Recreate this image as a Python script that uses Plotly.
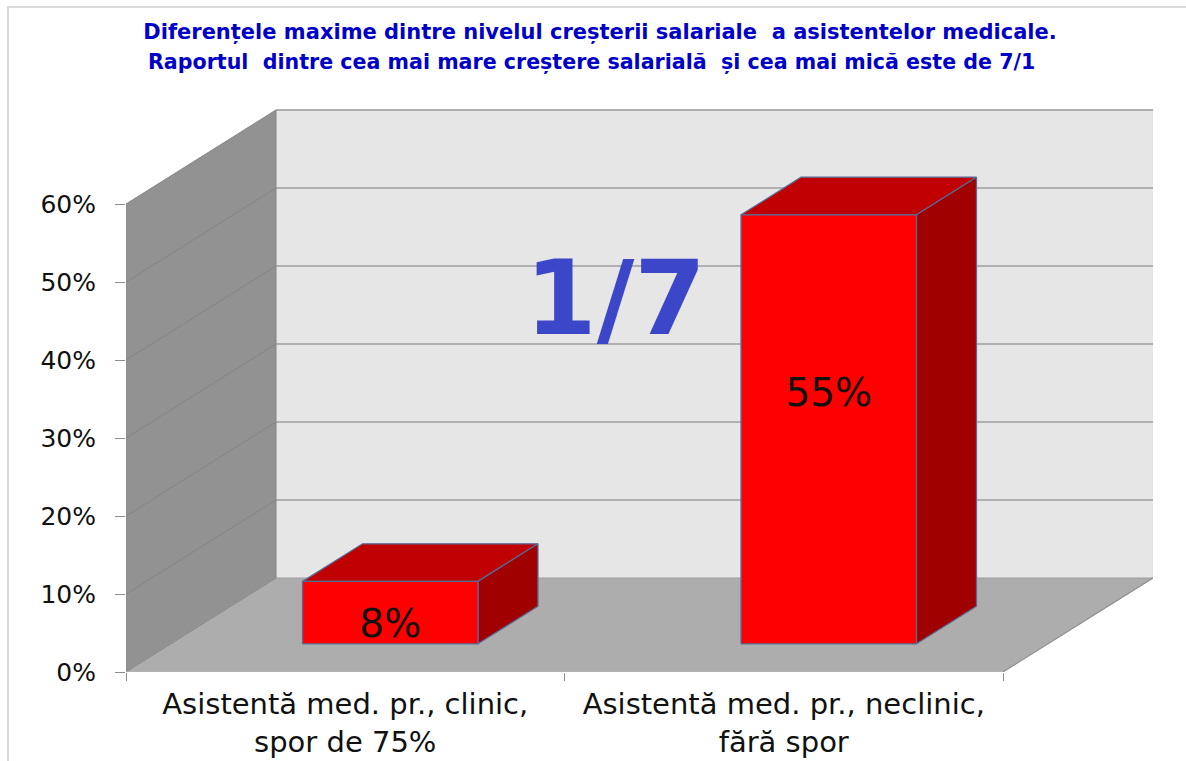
import plotly.graph_objects as go

# ---- data ----
categories = ["Asistentă med. pr., clinic,<br>spor de 75%", "Asistentă med. pr., neclinic,<br>fără spor"]
values = [8, 55]
value_labels = ["8%", "55%"]
y_ticks = [0, 10, 20, 30, 40, 50, 60]
y_tick_labels = ["0%", "10%", "20%", "30%", "40%", "50%", "60%"]
title_line_1 = "Diferențele maxime dintre nivelul creșterii salariale  a asistentelor medicale."
title_line_2 = "Raportul  dintre cea mai mare creștere salarială  și cea mai mică este de 7/1"
ratio_text = "1/7"

# ---- oblique projection of the fake 3D box (styles / geometry) ----
W, H = 1186, 761
PX_L, PX_R, PX_T, PX_B = 126, 1153, 109, 672
X_UNIT = 438.5          # px per category
Y_UNIT = 7.8            # px per percent
DX = 150 / X_UNIT       # depth vector in data units
DY = 94 / Y_UNIT
X_MAX = (PX_R - PX_L) / X_UNIT
Y_MAX = (PX_B - PX_T) / Y_UNIT
PW, PH = PX_R - PX_L, PX_B - PX_T
N = len(categories)
TOP = y_ticks[-1]
BAR_W = 0.4
DEPTH_FRONT, DEPTH_BACK = 0.3, 0.7
LABEL_SHIFT = [-1.9, 4.3]  # value-label offset from bar mid-height, in percent


def P(x, v, d):
    return x + d * DX, v + d * DY


fig = go.Figure()


def poly(points, fill, line_color=None, line_width=0):
    xs = [p[0] for p in points] + [points[0][0]]
    ys = [p[1] for p in points] + [points[0][1]]
    fig.add_trace(go.Scatter(
        x=xs, y=ys, mode="lines", fill="toself", fillcolor=fill,
        line=dict(color=line_color or fill, width=line_width),
        hoverinfo="skip", showlegend=False))


def seg(a, b, color, width):
    fig.add_trace(go.Scatter(
        x=[a[0], b[0]], y=[a[1], b[1]], mode="lines",
        line=dict(color=color, width=width), hoverinfo="skip", showlegend=False))


# walls
poly([P(0, 0, 1), P(N, 0, 1), P(N, TOP, 1), P(0, TOP, 1)], "#e6e6e6")
poly([P(0, 0, 0), P(0, 0, 1), P(0, TOP, 1), P(0, TOP, 0)], "#929292")
poly([P(0, 0, 0), P(N, 0, 0), P(N, 0, 1), P(0, 0, 1)], "#adadad")

# gridlines
for v in y_ticks:
    if v == 0:
        continue
    seg(P(0, v, 1), P(N, v, 1), "#b0b0b0", 2)
    seg(P(0, v, 0), P(0, v, 1), "#858585", 1)
seg(P(0, 0, 1), P(N, 0, 1), "#a0a0a0", 1)
seg(P(0, 0, 0), P(0, 0, 1), "#8a8a8a", 1)
seg(P(0, 0, 0), P(0, TOP, 0), "#8a8a8a", 1)
seg(P(0, 0, 1), P(0, TOP, 1), "#858585", 1)
seg(P(N, 0, 0), P(N, 0, 1), "#8c8c8c", 1.2)

# bars
EDGE = "#566a94"
for i, v in enumerate(values):
    x0 = i + 0.5 - BAR_W / 2
    x1 = i + 0.5 + BAR_W / 2
    poly([P(x0, v, DEPTH_FRONT), P(x1, v, DEPTH_FRONT), P(x1, v, DEPTH_BACK), P(x0, v, DEPTH_BACK)],
         "#c00000", EDGE, 1.3)
    poly([P(x1, 0, DEPTH_FRONT), P(x1, 0, DEPTH_BACK), P(x1, v, DEPTH_BACK), P(x1, v, DEPTH_FRONT)],
         "#a00000", EDGE, 1.3)
    poly([P(x0, 0, DEPTH_FRONT), P(x1, 0, DEPTH_FRONT), P(x1, v, DEPTH_FRONT), P(x0, v, DEPTH_FRONT)],
         "#ff0000", EDGE, 1.3)

# value labels
for i, v in enumerate(values):
    lx, ly = P(i + 0.5, v / 2 + LABEL_SHIFT[i], DEPTH_FRONT)
    fig.add_trace(go.Scatter(
        x=[lx], y=[ly], mode="text", text=[value_labels[i]],
        textposition="middle center",
        textfont=dict(family="DejaVu Sans", size=39, color="#111111"),
        hoverinfo="skip", showlegend=False))

# carrier of the tick-mark axis
fig.add_trace(go.Scatter(x=[0, N], y=[0, 0], mode="lines", xaxis="x2",
                         line=dict(color="#b5b5b5", width=1),
                         hoverinfo="skip", showlegend=False))


def paper_x(px):
    return (px - PX_L) / PW


def paper_y(py):
    return (PX_B - py) / PH


fig.update_layout(
    width=W, height=H,
    margin=dict(l=PX_L, r=W - PX_R, t=PX_T, b=H - PX_B, pad=0, autoexpand=False),
    paper_bgcolor="#ffffff", plot_bgcolor="rgba(0,0,0,0)",
    showlegend=False,
    xaxis=dict(range=[0, X_MAX], tickvals=[i + 0.5 for i in range(N)], ticktext=categories,
               ticks="", showgrid=False, zeroline=False, showline=False, automargin=False,
               tickfont=dict(family="DejaVu Sans", size=29, color="#111111"),
               ticklabelstandoff=12),
    xaxis2=dict(range=[0, X_MAX], overlaying="x", side="bottom",
                tickvals=list(range(N + 1)), ticktext=[""] * (N + 1), automargin=False,
                ticks="outside", ticklen=8, tickcolor="#8c8c8c", tickwidth=1,
                showgrid=False, zeroline=False, showline=False),
    yaxis=dict(range=[0, Y_MAX], tickvals=y_ticks, ticktext=y_tick_labels, automargin=False,
               ticks="outside", ticklen=10, tickcolor="#8c8c8c", tickwidth=1,
               showgrid=False, zeroline=False, showline=False,
               tickfont=dict(family="DejaVu Sans", size=25, color="#111111"),
               ticklabelstandoff=14),
    title=dict(text=title_line_1, x=600 / W, xanchor="center", xref="container", yref="container",
               y=1 - 32 / H, yanchor="middle",
               font=dict(family="DejaVu Sans", size=21, color="#0000c8", weight="bold")),
    shapes=[dict(type="rect", xref="paper", yref="paper", layer="below",
                 x0=paper_x(8), x1=paper_x(W + 20),
                 y0=paper_y(H + 20), y1=paper_y(7),
                 line=dict(color="#d9d9d9", width=2), fillcolor="#ffffff")],
    annotations=[
        dict(text=title_line_2, x=paper_x(591), y=paper_y(62), xref="paper", yref="paper",
             xanchor="center", yanchor="middle", showarrow=False,
             font=dict(family="DejaVu Sans", size=20.6, color="#0000c8", weight="bold")),
        dict(text=ratio_text, x=paper_x(615), y=paper_y(298), xref="paper", yref="paper",
             xanchor="center", yanchor="middle", showarrow=False,
             font=dict(family="DejaVu Sans", size=103, color="#3c46c8", weight="bold")),
    ],
)
fig.write_html("out.html", config={"displayModeBar": False},
               post_script="document.body.style.margin='0';window.dispatchEvent(new Event('resize'));")
